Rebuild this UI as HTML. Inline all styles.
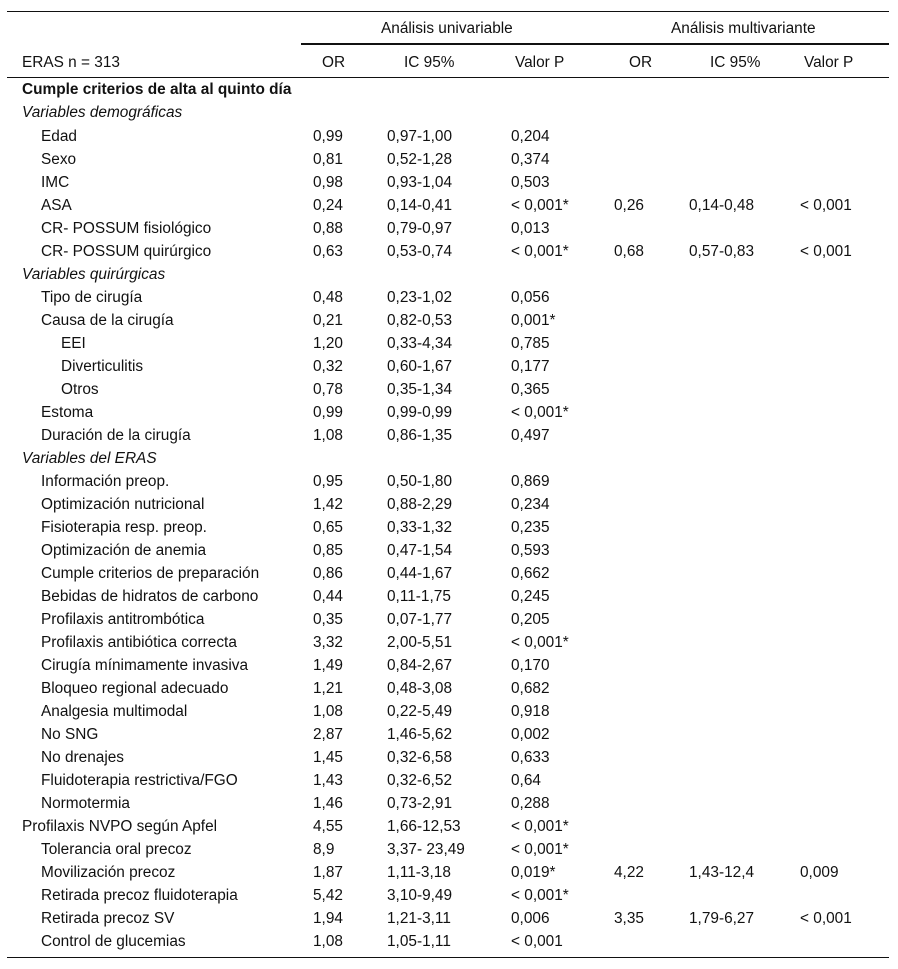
<!DOCTYPE html>
<html><head><meta charset="utf-8"><style>
body{margin:0;background:#fff;width:898px;height:969px;position:relative;font-family:"Liberation Sans",Arial,sans-serif;font-size:15.4px;color:#111;overflow:hidden}
.l{position:absolute;background:#111;height:1px}
.r{position:absolute;left:0;width:898px;height:20px;line-height:20px;white-space:nowrap;margin-top:2px}
.r span{position:absolute;top:0}
.a{left:22px}.b{left:41px}.c{left:61px}
.o{left:313px}.i{left:387px}.p{left:511px}.o2{left:614px}.i2{left:689px}.p2{left:800px}
.bold{font-weight:bold}.it{font-style:italic}
</style></head><body>
<div class="l" style="top:11px;left:7px;width:882px"></div>
<div class="l" style="top:43px;left:301px;width:588px;height:2px"></div>
<div class="l" style="top:77px;left:7px;width:882px"></div>
<div class="l" style="top:957px;left:7px;width:882px"></div>
<div class="r" style="top:17px"><span style="left:381px">Análisis univariable</span><span style="left:671px">Análisis multivariante</span></div>
<div class="r" style="top:51px"><span class="a">ERAS n = 313</span><span style="left:322px">OR</span><span style="left:404px">IC 95%</span><span style="left:515px">Valor P</span><span style="left:629px">OR</span><span style="left:710px">IC 95%</span><span style="left:804px">Valor P</span></div>
<div class="r" style="top:78px"><span class="a bold">Cumple criterios de alta al quinto día</span></div>
<div class="r" style="top:101px"><span class="a it">Variables demográficas</span></div>
<div class="r" style="top:125px"><span class="b">Edad</span><span class="o">0,99</span><span class="i">0,97-1,00</span><span class="p">0,204</span></div>
<div class="r" style="top:148px"><span class="b">Sexo</span><span class="o">0,81</span><span class="i">0,52-1,28</span><span class="p">0,374</span></div>
<div class="r" style="top:171px"><span class="b">IMC</span><span class="o">0,98</span><span class="i">0,93-1,04</span><span class="p">0,503</span></div>
<div class="r" style="top:194px"><span class="b">ASA</span><span class="o">0,24</span><span class="i">0,14-0,41</span><span class="p">&lt; 0,001*</span><span class="o2">0,26</span><span class="i2">0,14-0,48</span><span class="p2">&lt; 0,001</span></div>
<div class="r" style="top:217px"><span class="b">CR- POSSUM fisiológico</span><span class="o">0,88</span><span class="i">0,79-0,97</span><span class="p">0,013</span></div>
<div class="r" style="top:240px"><span class="b">CR- POSSUM quirúrgico</span><span class="o">0,63</span><span class="i">0,53-0,74</span><span class="p">&lt; 0,001*</span><span class="o2">0,68</span><span class="i2">0,57-0,83</span><span class="p2">&lt; 0,001</span></div>
<div class="r" style="top:263px"><span class="a it">Variables quirúrgicas</span></div>
<div class="r" style="top:286px"><span class="b">Tipo de cirugía</span><span class="o">0,48</span><span class="i">0,23-1,02</span><span class="p">0,056</span></div>
<div class="r" style="top:309px"><span class="b">Causa de la cirugía</span><span class="o">0,21</span><span class="i">0,82-0,53</span><span class="p">0,001*</span></div>
<div class="r" style="top:332px"><span class="c">EEI</span><span class="o">1,20</span><span class="i">0,33-4,34</span><span class="p">0,785</span></div>
<div class="r" style="top:355px"><span class="c">Diverticulitis</span><span class="o">0,32</span><span class="i">0,60-1,67</span><span class="p">0,177</span></div>
<div class="r" style="top:378px"><span class="c">Otros</span><span class="o">0,78</span><span class="i">0,35-1,34</span><span class="p">0,365</span></div>
<div class="r" style="top:401px"><span class="b">Estoma</span><span class="o">0,99</span><span class="i">0,99-0,99</span><span class="p">&lt; 0,001*</span></div>
<div class="r" style="top:424px"><span class="b">Duración de la cirugía</span><span class="o">1,08</span><span class="i">0,86-1,35</span><span class="p">0,497</span></div>
<div class="r" style="top:447px"><span class="a it">Variables del ERAS</span></div>
<div class="r" style="top:470px"><span class="b">Información preop.</span><span class="o">0,95</span><span class="i">0,50-1,80</span><span class="p">0,869</span></div>
<div class="r" style="top:493px"><span class="b">Optimización nutricional</span><span class="o">1,42</span><span class="i">0,88-2,29</span><span class="p">0,234</span></div>
<div class="r" style="top:516px"><span class="b">Fisioterapia resp. preop.</span><span class="o">0,65</span><span class="i">0,33-1,32</span><span class="p">0,235</span></div>
<div class="r" style="top:539px"><span class="b">Optimización de anemia</span><span class="o">0,85</span><span class="i">0,47-1,54</span><span class="p">0,593</span></div>
<div class="r" style="top:562px"><span class="b">Cumple criterios de preparación</span><span class="o">0,86</span><span class="i">0,44-1,67</span><span class="p">0,662</span></div>
<div class="r" style="top:585px"><span class="b">Bebidas de hidratos de carbono</span><span class="o">0,44</span><span class="i">0,11-1,75</span><span class="p">0,245</span></div>
<div class="r" style="top:608px"><span class="b">Profilaxis antitrombótica</span><span class="o">0,35</span><span class="i">0,07-1,77</span><span class="p">0,205</span></div>
<div class="r" style="top:631px"><span class="b">Profilaxis antibiótica correcta</span><span class="o">3,32</span><span class="i">2,00-5,51</span><span class="p">&lt; 0,001*</span></div>
<div class="r" style="top:654px"><span class="b">Cirugía mínimamente invasiva</span><span class="o">1,49</span><span class="i">0,84-2,67</span><span class="p">0,170</span></div>
<div class="r" style="top:677px"><span class="b">Bloqueo regional adecuado</span><span class="o">1,21</span><span class="i">0,48-3,08</span><span class="p">0,682</span></div>
<div class="r" style="top:700px"><span class="b">Analgesia multimodal</span><span class="o">1,08</span><span class="i">0,22-5,49</span><span class="p">0,918</span></div>
<div class="r" style="top:723px"><span class="b">No SNG</span><span class="o">2,87</span><span class="i">1,46-5,62</span><span class="p">0,002</span></div>
<div class="r" style="top:746px"><span class="b">No drenajes</span><span class="o">1,45</span><span class="i">0,32-6,58</span><span class="p">0,633</span></div>
<div class="r" style="top:769px"><span class="b">Fluidoterapia restrictiva/FGO</span><span class="o">1,43</span><span class="i">0,32-6,52</span><span class="p">0,64</span></div>
<div class="r" style="top:792px"><span class="b">Normotermia</span><span class="o">1,46</span><span class="i">0,73-2,91</span><span class="p">0,288</span></div>
<div class="r" style="top:815px"><span class="a">Profilaxis NVPO según Apfel</span><span class="o">4,55</span><span class="i">1,66-12,53</span><span class="p">&lt; 0,001*</span></div>
<div class="r" style="top:838px"><span class="b">Tolerancia oral precoz</span><span class="o">8,9</span><span class="i">3,37- 23,49</span><span class="p">&lt; 0,001*</span></div>
<div class="r" style="top:861px"><span class="b">Movilización precoz</span><span class="o">1,87</span><span class="i">1,11-3,18</span><span class="p">0,019*</span><span class="o2">4,22</span><span class="i2">1,43-12,4</span><span class="p2">0,009</span></div>
<div class="r" style="top:884px"><span class="b">Retirada precoz fluidoterapia</span><span class="o">5,42</span><span class="i">3,10-9,49</span><span class="p">&lt; 0,001*</span></div>
<div class="r" style="top:907px"><span class="b">Retirada precoz SV</span><span class="o">1,94</span><span class="i">1,21-3,11</span><span class="p">0,006</span><span class="o2">3,35</span><span class="i2">1,79-6,27</span><span class="p2">&lt; 0,001</span></div>
<div class="r" style="top:930px"><span class="b">Control de glucemias</span><span class="o">1,08</span><span class="i">1,05-1,11</span><span class="p">&lt; 0,001</span></div>
</body></html>
